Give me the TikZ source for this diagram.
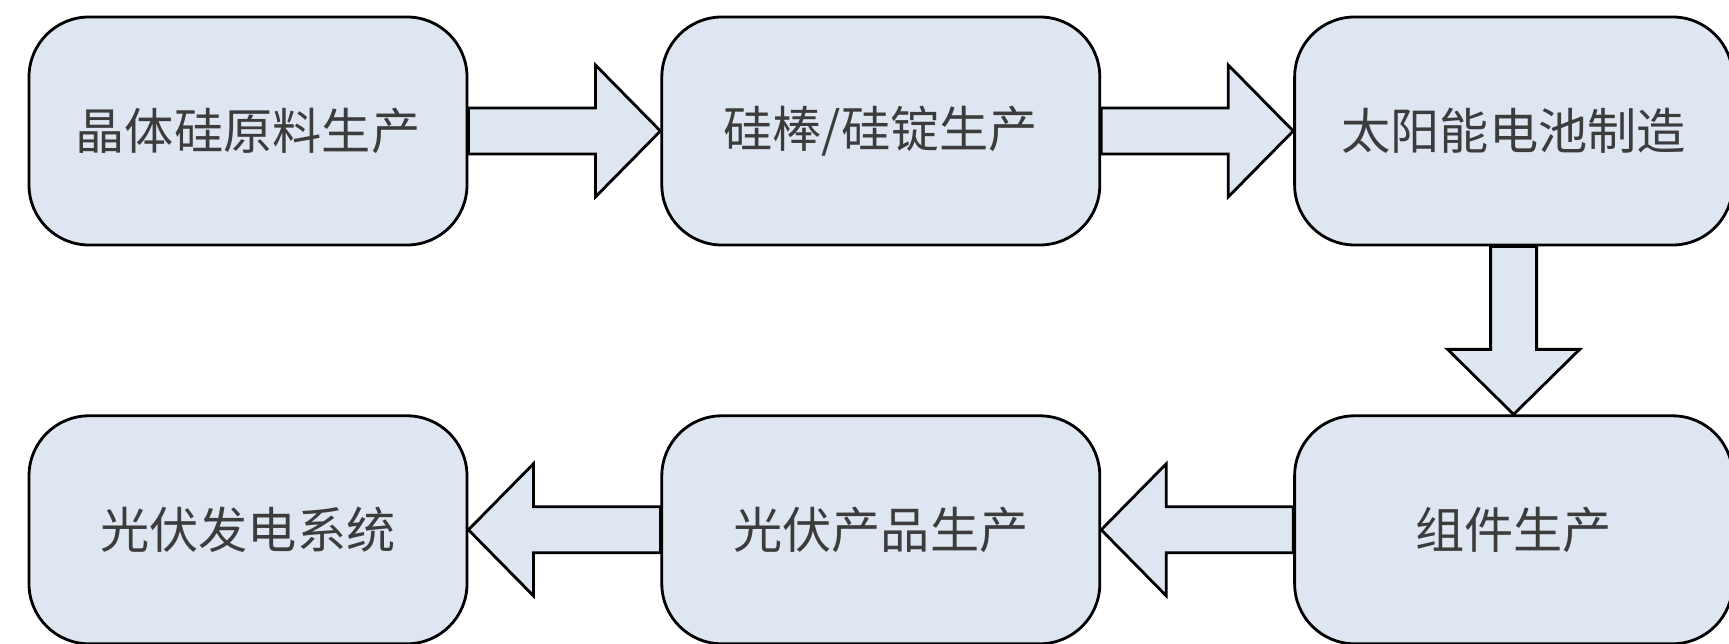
\documentclass[tikz,border=0pt]{standalone}
\usepackage{fontspec}
\newfontfamily\cjk{Noto Sans CJK SC}
\usepackage{tikz}
\usetikzlibrary{calc,positioning}
\definecolor{stagefill}{RGB}{221,230,241}
\definecolor{stagetext}{RGB}{60,60,60}
\tikzset{
	stage/.style={draw=black, line width=0.8pt, fill=stagefill, rounded corners=0.6cm,
		minimum width=4.38cm, minimum height=2.28cm, inner sep=0pt,
		text=stagetext, font=\cjk\fontsize{14}{16}\selectfont},
	flowarrow/.style={draw=black, line width=0.8pt, fill=stagefill, line join=miter}
}
\def\blockarrow(#1)(#2){%
	\coordinate (hb) at ($(#2)!0.65cm!(#1)$);
	\draw[flowarrow] ($(#1)!0.23cm!90:(#2)$) -- ($(hb)!0.23cm!90:(#2)$) -- ($(hb)!0.66cm!90:(#2)$)
		-- (#2) -- ($(hb)!0.66cm!-90:(#2)$) -- ($(hb)!0.23cm!-90:(#2)$) -- ($(#1)!0.23cm!-90:(#2)$) -- cycle;}

\begin{document}
\begin{tikzpicture}
		%%%%% START %%%%%
		\useasboundingbox (0, 0) rectangle (17.29, 6.44);
		
		\node[stage] (b1) at (2.48, 5.13) {晶体硅原料生产};
		\node[stage, right=1.92cm of b1] (b2) {硅棒/硅锭生产};
		\node[stage, right=1.92cm of b2] (b3) {太阳能电池制造};
		
		\node[stage, below=1.68cm of b3] (b4) {组件生产};
		\node[stage, left=1.92cm of b4] (b5) {光伏产品生产};
		\node[stage, left=1.92cm of b5] (b6) {光伏发电系统};
		
		\blockarrow(b1.east)(b2.west)
		\blockarrow(b2.east)(b3.west)
		\blockarrow(b3.south)(b4.north)
		\blockarrow(b4.west)(b5.east)
		\blockarrow(b5.west)(b6.east)
		
		%%%%% END %%%%%
	\end{tikzpicture}
\end{document}
